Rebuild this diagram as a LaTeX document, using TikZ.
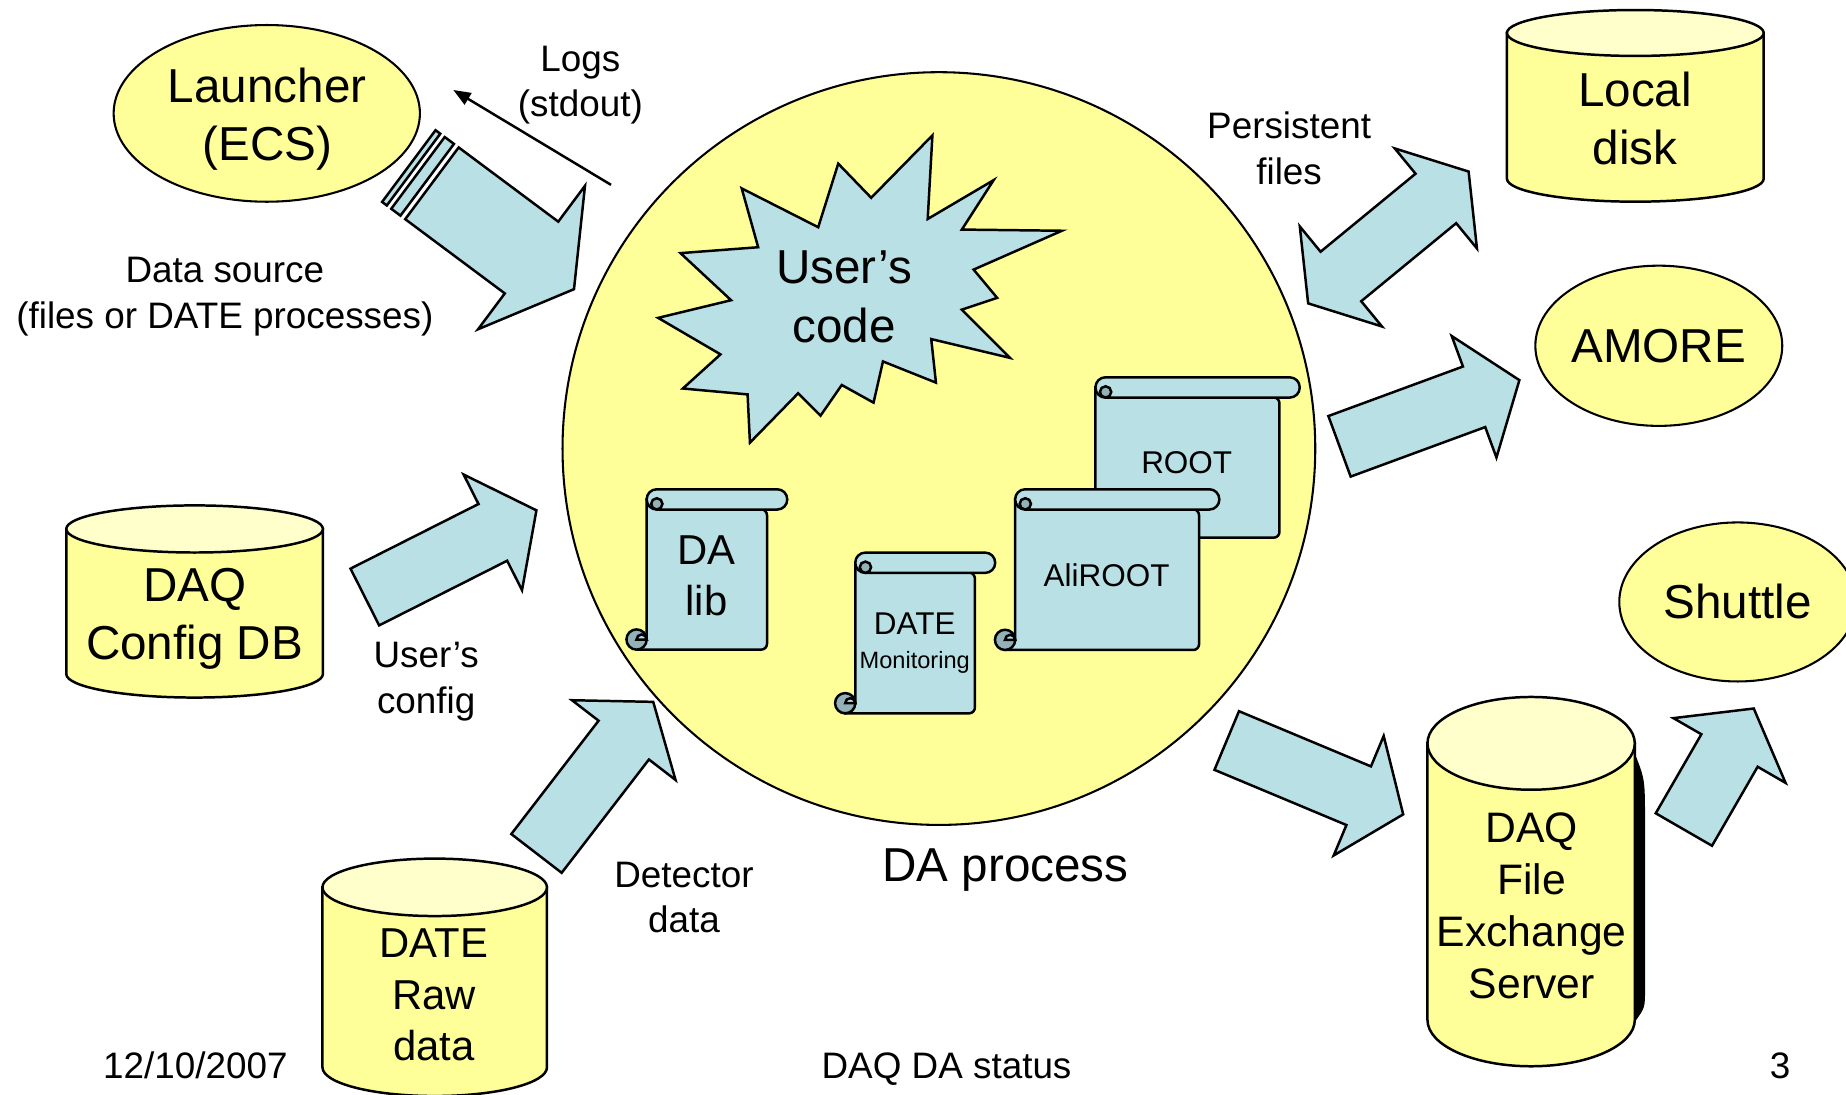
\documentclass[tikz,border=0pt]{standalone}
\usepackage{fontspec}
\setmainfont{Liberation Sans}
\usetikzlibrary{arrows.meta, shapes.geometric}

\definecolor{paleyellow}{RGB}{255,255,153}
\definecolor{capyellow}{RGB}{255,255,204}
\definecolor{paleblue}{RGB}{185,224,228}
\definecolor{curlblue}{RGB}{146,178,183}

% block arrow: tail centre, angle, length, head length, half shaft, half head
\newcommand{\fatarrow}[6]{%
  \filldraw[fatarrow, shift={(#1)}, rotate=#2]
    (0,-#5) -- ({#3-#4},-#5) -- ({#3-#4},-#6) -- (#3,0) --
    ({#3-#4},#6) -- ({#3-#4},#5) -- (0,#5) -- cycle;}

% double block arrow: centre, angle, half length, head length, half shaft, half head
\newcommand{\fatdarrow}[6]{%
  \filldraw[fatarrow, shift={(#1)}, rotate=#2]
    (-#3,0) -- ({-#3+#4},-#6) -- ({-#3+#4},-#5) -- ({#3-#4},-#5) --
    ({#3-#4},-#6) -- (#3,0) -- ({#3-#4},#6) -- ({#3-#4},#5) --
    ({-#3+#4},#5) -- ({-#3+#4},#6) -- cycle;}

% cylinder: left, top, right, bottom, cap radius
\newcommand{\cylinder}[5]{%
  \pgfmathsetmacro{\cylrx}{(#3-#1)/2}
  \filldraw[cylbody] (#1,{#2+#5}) -- (#1,{#4-#5})
    arc[start angle=180, end angle=0, x radius=\cylrx, y radius=#5]
    -- (#3,{#2+#5}) -- cycle;
  \filldraw[cylcap] ({(#1+#3)/2},{#2+#5}) ellipse[x radius=\cylrx, y radius=#5];}

% scroll: left, top, right, bottom
\newcommand{\scroll}[4]{%
  \filldraw[scrollbody] (#1,{#2+8.6}) -- (#1,{#4-8.6}) -- ({#1-8.6},{#4-8.6})
    -- ({#1-8.6},#4) [rounded corners=1.4pt] -- (#3,#4) -- (#3,{#2+17.2})
    [sharp corners] -- cycle;
  \filldraw[curl] ({#1-8.6},{#4-8.6}) circle[radius=8.6];
  \filldraw[scrollbody] ({#1-8.6},{#4-8.6}) arc[start angle=180, end angle=360, radius=4.3] -- cycle;
  \filldraw[scrollbody, rounded corners=2.4pt] (#1,#2) rectangle ({#3+17.2},{#2+17.2});
  \filldraw[curl] ({#1+8.6},{#2+12.4}) circle[radius=4.8];}

\begin{document}
\begin{tikzpicture}[x=0.01cm, y=-0.01cm,
    bigtext/.style={font=\fontsize{11.5}{14.1}\selectfont, align=center, inner sep=0pt},
    midtext/.style={font=\fontsize{10.1}{12.4}\selectfont, align=center, inner sep=0pt},
    smalltext/.style={font=\fontsize{8.9}{10.9}\selectfont, align=center, inner sep=0pt},
    scrolltext/.style={font=\fontsize{7.6}{8.2}\selectfont, align=center, inner sep=0pt},
    blob/.style={ellipse, draw, fill=paleyellow, line width=0.5pt, inner sep=0pt},
    fatarrow/.style={draw=black, fill=paleblue, line width=0.6pt, line join=miter},
    cylbody/.style={draw=black, fill=paleyellow, line width=0.6pt},
    cylcap/.style={draw=black, fill=capyellow, line width=0.6pt},
    scrollbody/.style={draw=black, fill=paleblue, line width=0.6pt},
    curl/.style={draw=black, fill=curlblue, line width=0.6pt},
    logarrow/.style={-{Triangle[length=4.2pt, width=3.2pt]}, line width=0.6pt}]

    \useasboundingbox (0,0) rectangle (1568,930);
    \clip (0,0) rectangle (1568,930);

    % DA process circle
    \node[circle, draw, fill=paleyellow, line width=0.5pt, minimum size=6.39cm, inner sep=0pt]
        (dacircle) at (797.5,381) {};
    \node[bigtext] (daproc) at (854,739) {DA process};

    % User's code star
    \filldraw[fatarrow] (792,115) -- (788,186) -- (844,153) -- (817,195) -- (902,196)
        -- (827,229) -- (847,253) -- (817,263) -- (858,304) -- (791,288) -- (795,325)
        -- (750,307) -- (742,342) -- (715,327) -- (697,353) -- (678,334) -- (637,376)
        -- (635,335) -- (580,330) -- (612,301) -- (559,270) -- (621,255) -- (578,215)
        -- (644,210) -- (630,160) -- (695,193) -- (712,139) -- (740,168) -- cycle;
    \node[bigtext] (usercode) at (717,252) {User’s\\code};

    % Scrolls
    \scroll{930.5}{320.5}{1086.8}{456.7}
    \node[scrolltext] (root) at (1008,393) {ROOT};
    \scroll{862.3}{415.6}{1018.5}{552.1}
    \node[scrolltext] (aliroot) at (940,489) {AliROOT};
    \scroll{549.3}{415.6}{651.5}{551.8}
    \node[midtext] (dalib) at (600,489) {DA\\lib};
    \scroll{726.5}{469.4}{828.1}{605.9}
    \node[scrolltext] (datemon) at (777,546) {DATE\\{\fontsize{5.7}{8.2}\selectfont Monitoring}};

    % Launcher and data source arrow
    \node[blob, minimum width=2.6cm, minimum height=1.5cm] (launcher) at (226.6,96.3) {};
    \node[bigtext] (launchertext) at (227,101) {Launcher\\(ECS)};
    \begin{scope}[shift={(366.9,155.7)}, rotate=-36.7]
        \filldraw[fatarrow] (-14.8,-38) rectangle (-5,38);
        \filldraw[fatarrow] (-24.5,-38) rectangle (-19.5,38);
    \end{scope}
    \fatarrow{366.9,155.7}{-36.7}{150.5}{45}{38}{76}
    \node[smalltext] (datasrc) at (191,252) {Data source\\(files or DATE processes)};

    % Logs
    \coordinate (logtail) at (519,157);
    \coordinate (loghead) at (385,76.4);
    \draw[logarrow] (logtail) -- (loghead);
    \node[smalltext] (logs) at (493,72) {Logs\\(stdout)};

    % DAQ Config DB
    \cylinder{56.3}{429.3}{274.3}{592.5}{20}
    \node[bigtext] (configdb) at (165.3,525.5) {DAQ\\Config DB};
    \fatarrow{309.9,507.1}{26.8}{163.3}{41.5}{27}{55}
    \node[smalltext] (usercfg) at (362,579) {User’s\\config};

    % DATE raw data
    \cylinder{273.9}{729.3}{464.6}{931}{24.4}
    \node[midtext] (rawdata) at (368.6,845) {DATE\\Raw\\data};
    \fatarrow{455.7,724.9}{52.4}{162.5}{41}{27}{55.5}
    \node[smalltext] (detdata) at (581,762) {Detector\\data};

    % Local disk and persistent files
    \cylinder{1280}{8.5}{1498.1}{171.3}{19.5}
    \node[bigtext] (localdisk) at (1388.9,100.5) {Local\\disk};
    \fatdarrow{1179.3,201.7}{39.4}{88.2}{36}{27.2}{55}
    \node[smalltext] (persist) at (1095,126) {Persistent\\files};

    % AMORE
    \node[blob, minimum width=2.04cm, minimum height=1.36cm, font=\fontsize{11.5}{14.1}\selectfont]
        (amore) at (1409,293.7) {AMORE};
    \fatarrow{1137.8,379.1}{20.2}{162.8}{41}{27.4}{55}

    % DAQ File Exchange Server
    \fatarrow{1042,629}{-22.7}{162.5}{41}{27}{55}
    \fill (1388.6,640) .. controls (1397.3,662) .. (1397.3,700) -- (1397.3,840)
        .. controls (1397.3,856) .. (1388.6,868) -- cycle;
    \cylinder{1212.5}{592}{1388.6}{905.7}{39.4}
    \node[midtext, font=\fontsize{10.3}{12.5}\selectfont] (fxs) at (1301,769.5) {DAQ\\File\\Exchange\\Server};

    % Shuttle
    \node[blob, minimum width=2.01cm, minimum height=1.35cm, font=\fontsize{11.5}{14.1}\selectfont]
        (shuttle) at (1476,511.3) {Shuttle};
    \fatarrow{1430.3,704.6}{60}{118.7}{41.2}{27.6}{55}

    % footer
    \node[smalltext] (footdate) at (166,905) {12/10/2007};
    \node[smalltext] (foottitle) at (804,908) {DAQ DA status};
    \node[smalltext] (footpage) at (1512,905) {3};
\end{tikzpicture}
\end{document}
